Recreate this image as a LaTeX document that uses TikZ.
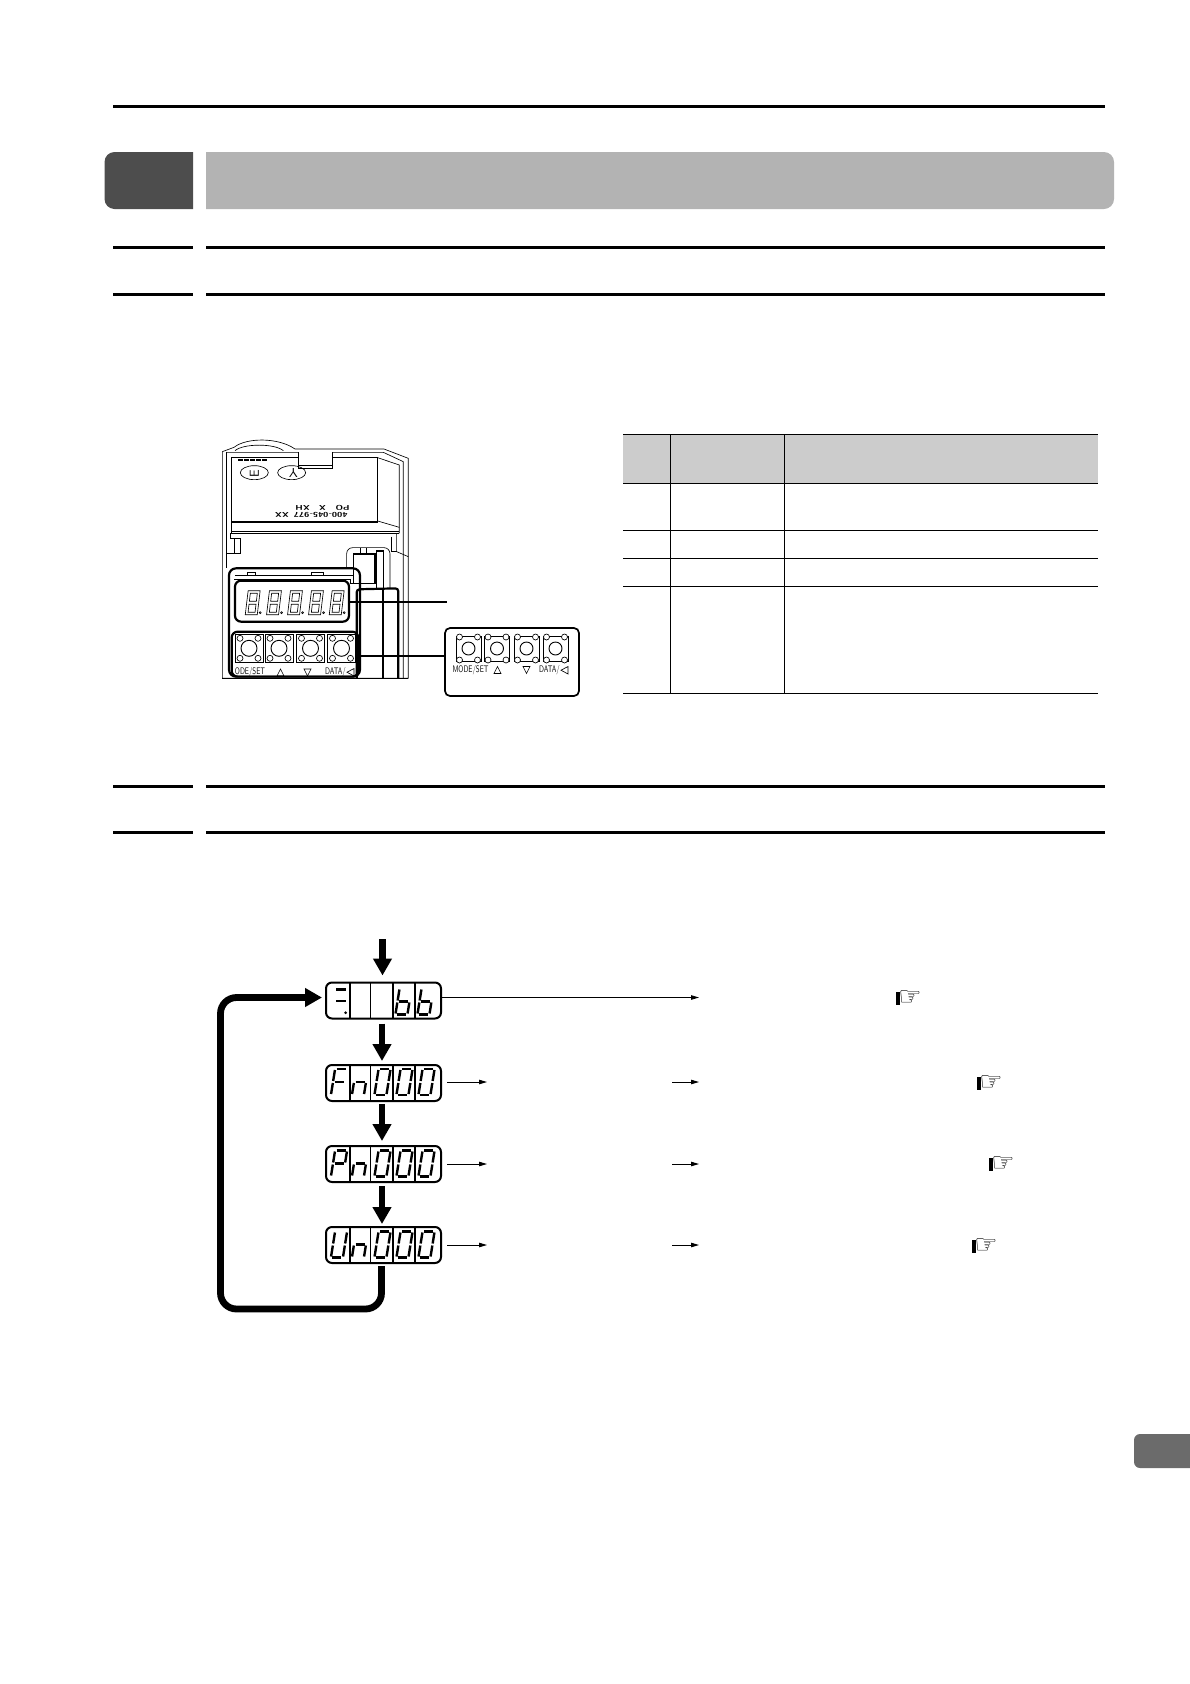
\documentclass[tikz,border=0pt]{standalone}
\usepackage{amssymb}
\usepackage{fontspec}
\usetikzlibrary{positioning}
\usetikzlibrary{arrows.meta}
\newfontfamily\handfont{DejaVu Sans}
\definecolor{headdark}{HTML}{4D4D4D}
\definecolor{headlight}{HTML}{B3B3B3}
\definecolor{tablehead}{HTML}{CCCCCC}
\definecolor{pagetab}{HTML}{6B6B6B}

\tikzset{
  rulethick/.style={black, line width=3pt},
  tableline/.style={black, line width=0.8pt},
  thinline/.style={black, line width=0.65pt},
  keyline/.style={black, line width=0.9pt},
  midline/.style={black, line width=1.3pt},
  heavyline/.style={black, line width=2.2pt},
  segline/.style={black, line width=2.4pt},
  dispbox/.style={draw, line width=2pt, rounded corners=6pt, minimum width=115pt, minimum height=36pt, inner sep=0pt, outer sep=0pt},
  bigarrow/.style={black, line width=6.8pt, -{Triangle[width=18pt,length=17pt]}},
  smallarrow/.style={black, line width=0.9pt, -{Triangle[width=4.5pt,length=8pt]}},
  keylabel/.style={font=\sffamily\fontsize{9.5}{9.5}\selectfont, inner sep=0pt, xscale=0.72, transform shape},
  printlabel/.style={font=\sffamily\bfseries\fontsize{7}{7}\selectfont, inner sep=0pt, rotate=180, xscale=1.35, transform shape},
  markglyph/.style={font=\sffamily\fontsize{13}{13}\selectfont, inner sep=0pt},
  handmark/.style={font=\handfont\fontsize{26}{26}\selectfont, inner sep=0pt},
}

% segments of one display digit
\def\sega{(-4.5,-13)--(4.5,-13)}
\def\segb{(6,-12)--(6,-1)}
\def\segc{(6,1)--(6,12)}
\def\segd{(-4.5,13)--(4.5,13)}
\def\sege{(-6,1)--(-6,12)}
\def\segf{(-6,-12)--(-6,-1)}
\def\segg{(-4.5,0)--(4.5,0)}
\newcommand{\segdigit}[3]{
  \begin{scope}[shift={(#1,#2)}, xslant=0.16]
    \foreach \s in {#3} {\draw[segline] \s;}
  \end{scope}
}
% one digit of the small panel
\newcommand{\leddigit}[2]{
  \begin{scope}[shift={(#1,#2)}, xslant=0.12]
    \draw[thinline] (-6,-12) rectangle (6,12);
    \draw[thinline] (-3.5,-9.5) rectangle (3.5,-1.5);
    \draw[thinline] (-3.5,1.5) rectangle (3.5,9.5);
  \end{scope}
  \draw[thinline] (#1+7.5,#2+10) circle [radius=1];
}
% one push button: centre, half size, corner offset
\newcommand{\devkey}[4]{
  \draw[keyline] (#1-#3,#2-#3) rectangle (#1+#3,#2+#3);
  \draw[keyline] (#1,#2) circle [radius=#3-6];
  \draw[thinline, fill=white] (#1-9,#2-#4) circle [radius=3];
  \draw[thinline, fill=white] (#1+9,#2-#4) circle [radius=3];
  \draw[thinline, fill=white] (#1-9,#2+#4) circle [radius=3];
  \draw[thinline, fill=white] (#1+9,#2+#4) circle [radius=3];
}

\begin{document}
\begin{tikzpicture}[x=1pt, y=-1pt]
\useasboundingbox (0,0) rectangle (1190,1684);

% page head
\draw[rulethick] (113,106)--(1105,106);
\fill[headdark] (193,152) [rounded corners=10pt] -- (104.5,152) -- (104.5,209) [sharp corners] -- (193,209) -- cycle;
\fill[headlight] (206,152) [rounded corners=10pt] -- (1114,152) -- (1114,209) [sharp corners] -- (206,209) -- cycle;
\fill[headlight] (206,152) rectangle (1000,209);

\draw[rulethick] (113,247)--(193,247);
\draw[rulethick] (206,247)--(1105,247);
\draw[rulethick] (113,294)--(193,294);
\draw[rulethick] (206,294)--(1105,294);

\draw[rulethick] (113,786)--(193,786);
\draw[rulethick] (206,786)--(1105,786);
\draw[rulethick] (113,832)--(193,832);
\draw[rulethick] (206,832)--(1105,832);

% page tab
\fill[pagetab] (1190,1434) [rounded corners=6pt] -- (1134,1434) -- (1134,1468) [sharp corners] -- (1190,1468) -- cycle;

% table
\fill[tablehead] (623,434) rectangle (1098,483);
\draw[tableline] (623,434)--(1098,434);
\draw[tableline] (623,483)--(1098,483);
\draw[tableline] (623,530)--(1098,530);
\draw[tableline] (623,558)--(1098,558);
\draw[tableline] (623,586)--(1098,586);
\draw[tableline] (623,693)--(1098,693);
\draw[tableline] (670,434)--(670,693);
\draw[tableline] (784,434)--(784,693);

% panel drawing, in steps of a third
\begin{scope}[shift={(190,420)}, x=0.3333pt, y=-0.3333pt]
{
\draw[thinline] (97,775)--(97,95)--(132,82) .. controls (170,52) and (265,52) .. (315,87)--(582,87)--(655,115)--(655,775)--cycle;
\draw[thinline] (135,92) .. controls (160,70) and (255,70) .. (280,92);
\draw[thinline] (110,97)--(580,97)--(640,125)--(640,775);
\draw[keyline] (125,113)--(563,113)--(563,303)--(125,303)--cycle;
\draw[thinline] (125,307)--(563,307);
\draw[keyline] (125,113)--(125,340)--(628,340);
\draw[thinline] (125,333)--(628,333);
\draw[thinline] (563,113)--(628,135)--(628,340);
\draw[thinline] (563,303)--(628,322);
\draw[thinline] (110,97)--(110,445);

% latches
\draw[thinline] (122,340)--(122,355)--(150,355)--(150,400)--(110,400);
\draw[thinline] (132,355)--(132,400);
\draw[thinline] (620,340)--(620,395)--(655,410);
\draw[thinline] (605,350)--(605,395)--(620,395);

% lid tab
\draw[midline, fill=white] (325,97)--(325,145)--(427,145)--(427,97);
\draw[thinline] (325,135)--(427,135);

% print on the lid
\draw[black, line width=2.2pt, dash pattern=on 5pt off 1pt] (145,121)--(235,121);
\draw[thinline] (193,158) ellipse [x radius=42, y radius=21];
\draw[thinline] (305,158) ellipse [x radius=42, y radius=21];
\node[markglyph, rotate=90] (markE) at (193,160) {E};
\node[markglyph, rotate=180] (markY) at (310,160) {Y};
\node[printlabel] (printPO) at (458,263) {PO};
\node[printlabel] (printX) at (397,263) {X};
\node[printlabel] (printXH) at (338,263) {XH};
\node[printlabel] (printNo) at (392,285) {400-045-977};
\node[printlabel] (printXX) at (276,285) {XX};

% connector block
\draw[thinline, rounded corners=6pt] (470,442)--(470,383)--(600,383)--(600,505);
\draw[midline] (490,402) rectangle (555,490);
\draw[midline] (560,393) rectangle (580,505);
\draw[thinline] (510,385)--(510,402);
\draw[thinline] (530,385)--(530,402);
\draw[thinline] (470,465)--(490,465);
\draw[thinline] (480,490)--(555,490);

% heavy frames
\draw[heavyline, rounded corners=7pt] (117,770) rectangle (510,445);
\draw[heavyline, rounded corners=3pt] (500,775)--(500,508)--(625,505)--(625,775);
\draw[heavyline] (578,505)--(578,775);
\draw[thinline] (135,465)--(470,465);
\draw[thinline] (133,478)--(480,478)--(480,490);
\draw[thinline] (172,458) rectangle (197,465);
\draw[thinline] (365,458) rectangle (400,465);
\draw[heavyline, rounded corners=6pt] (135,482) rectangle (477,605);
\draw[heavyline, rounded corners=6pt] (125,635) rectangle (505,770);
\draw[thinline] (97,775)--(655,775);
}
\end{scope}

% panel digits and keys
\leddigit{252.7}{602.7}
\leddigit{274}{602.7}
\leddigit{295}{602.7}
\leddigit{316}{602.7}
\leddigit{336.7}{602.7}

\devkey{249}{648.3}{14}{10}
\devkey{279}{648.3}{14}{10}
\devkey{310.5}{648.3}{14}{10}
\devkey{341.5}{648.3}{14}{10}

\node[keylabel] (devmode) at (250,672) {ODE/SET};
\draw[thinline] (277,676)--(284,676)--(280.5,669)--cycle;
\draw[thinline] (304,669)--(311,669)--(307.5,676)--cycle;
\node[keylabel, anchor=east] (devdata) at (346,672) {DATA/};
\draw[thinline] (354,668.5)--(354,676)--(347,672.2)--cycle;

% inset with the keys
\node[draw, line width=1.7pt, rounded corners=5pt, minimum width=134pt, minimum height=68pt, inner sep=0pt, outer sep=0pt] (keybox) at (512,662) {};
\devkey{468.5}{648.5}{12.5}{11.5}
\devkey{497}{648.5}{12.5}{11.5}
\devkey{526.5}{648.5}{12.5}{11.5}
\devkey{555.5}{648.5}{12.5}{11.5}

\node[keylabel] (insetmode) at (470.5,670) {MODE/SET};
\draw[thinline] (494,673.5)--(501,673.5)--(497.5,666.5)--cycle;
\draw[thinline] (523,666.5)--(530,666.5)--(526.5,673.5)--cycle;
\node[keylabel, anchor=east] (insetdata) at (560,670) {DATA/};
\draw[thinline] (568,666.5)--(568,674)--(561,670.2)--cycle;

% leaders out of the panel
\coordinate (ledstart) at (349,602);
\coordinate (ledend) at (447,602);
\coordinate (keystart) at (357,656);
\draw[heavyline] (ledstart)--(ledend);
\draw[heavyline] (keystart)--(keystart -| keybox.west);

% mode displays
\node[dispbox] (bbbox) at (383.5,1000.5) {};
\node[dispbox] (fnbox) at (383.5,1083) {};
\node[dispbox] (pnbox) at (383.5,1164) {};
\node[dispbox] (unbox) at (383.5,1245) {};

% cell walls
\draw[midline] (350,982)--(350,1019);
\draw[midline] (370.5,982)--(370.5,1019);
\draw[midline] (393,982)--(393,1019);
\draw[midline] (415,982)--(415,1019);

\draw[midline] (350,1064)--(350,1102);
\draw[midline] (370.5,1064)--(370.5,1102);
\draw[midline] (393,1064)--(393,1102);
\draw[midline] (415,1064)--(415,1102);

\draw[midline] (350,1145)--(350,1183);
\draw[midline] (370.5,1145)--(370.5,1183);
\draw[midline] (393,1145)--(393,1183);
\draw[midline] (415,1145)--(415,1183);

\draw[midline] (350,1226)--(350,1264);
\draw[midline] (370.5,1226)--(370.5,1264);
\draw[midline] (393,1226)--(393,1264);
\draw[midline] (415,1226)--(415,1264);

% first row
\draw[segline] (336,989.5)--(346,989.5);
\draw[segline] (336,1001)--(346,1001);
\fill[black] (345.7,1012.7) circle [radius=1.5];
\segdigit{403.5}{1001.5}{\sege,\segf,\segc,\segd,\segg}
\segdigit{425.5}{1001.5}{\sege,\segf,\segc,\segd,\segg}

% other rows
\segdigit{339}{1082}{\sega,\sege,\segf,\segg}
\segdigit{360}{1082}{\segc,\sege,\segg}
\segdigit{382.5}{1082}{\sega,\segb,\segc,\segd,\sege,\segf}
\segdigit{404.5}{1082}{\sega,\segb,\segc,\segd,\sege,\segf}
\segdigit{426.5}{1082}{\sega,\segb,\segc,\segd,\sege,\segf}

\segdigit{339}{1163.5}{\sega,\segb,\sege,\segf,\segg}
\segdigit{360}{1163.5}{\segc,\sege,\segg}
\segdigit{382.5}{1163.5}{\sega,\segb,\segc,\segd,\sege,\segf}
\segdigit{404.5}{1163.5}{\sega,\segb,\segc,\segd,\sege,\segf}
\segdigit{426.5}{1163.5}{\sega,\segb,\segc,\segd,\sege,\segf}

\segdigit{339}{1244.5}{\segb,\segc,\segd,\sege,\segf}
\segdigit{360}{1244.5}{\segc,\sege,\segg}
\segdigit{382.5}{1244.5}{\sega,\segb,\segc,\segd,\sege,\segf}
\segdigit{404.5}{1244.5}{\sega,\segb,\segc,\segd,\sege,\segf}
\segdigit{426.5}{1244.5}{\sega,\segb,\segc,\segd,\sege,\segf}

% heavy arrows
\coordinate (entry) at (382.5,939);
\draw[bigarrow] (entry)--([shift={(-1pt,7pt)}]bbbox.north);
\draw[bigarrow] ([shift={(-1.5pt,-5pt)}]bbbox.south)--([shift={(-1.5pt,4pt)}]fnbox.north);
\draw[bigarrow] ([shift={(-1.5pt,-3pt)}]fnbox.south)--([shift={(-1.5pt,5pt)}]pnbox.north);
\draw[bigarrow] ([shift={(-1.5pt,-4pt)}]pnbox.south)--([shift={(-1.5pt,3pt)}]unbox.north);

\coordinate (loopright) at (381.5,1309);
\coordinate (loopleft) at (220.5,1309);
\coordinate (looptop) at (220.5,997.5);
\draw[bigarrow, rounded corners=16pt] ([shift={(-2pt,-3pt)}]unbox.south)--(loopright)--(loopleft)--(looptop)--([shift={(-4pt,3pt)}]bbbox.west);

% thin arrows
\coordinate (bbend) at (699,997.5);
\draw[smallarrow] ([yshift=3pt]bbbox.east)--(bbend);

\coordinate (fnmid) at (487,1082);
\coordinate (fnnext) at (672,1082);
\coordinate (fnend) at (699,1082);
\draw[smallarrow] ([shift={(6pt,1pt)}]fnbox.east)--(fnmid);
\draw[smallarrow] (fnnext)--(fnend);

\coordinate (pnmid) at (487,1164);
\coordinate (pnnext) at (672,1164);
\coordinate (pnend) at (699,1164);
\draw[smallarrow] ([xshift=6pt]pnbox.east)--(pnmid);
\draw[smallarrow] (pnnext)--(pnend);

\coordinate (unmid) at (487,1245);
\coordinate (unnext) at (672,1245);
\coordinate (unend) at (699,1245);
\draw[smallarrow] ([xshift=6pt]unbox.east)--(unmid);
\draw[smallarrow] (unnext)--(unend);

% pointing hands
\node[handmark] (handbb) at (910,998) {☞};
\fill[black] ([shift={(-2pt,-6.5pt)}]handbb.west) rectangle ([shift={(2pt,6.5pt)}]handbb.west);
\node[handmark] (handfn) at (991,1083) {☞};
\fill[black] ([shift={(-2pt,-6.5pt)}]handfn.west) rectangle ([shift={(2pt,6.5pt)}]handfn.west);
\node[handmark] (handpn) at (1003,1164) {☞};
\fill[black] ([shift={(-2pt,-6.5pt)}]handpn.west) rectangle ([shift={(2pt,6.5pt)}]handpn.west);
\node[handmark] (handun) at (986,1246) {☞};
\fill[black] ([shift={(-2pt,-6.5pt)}]handun.west) rectangle ([shift={(2pt,6.5pt)}]handun.west);

\end{tikzpicture}
\end{document}
